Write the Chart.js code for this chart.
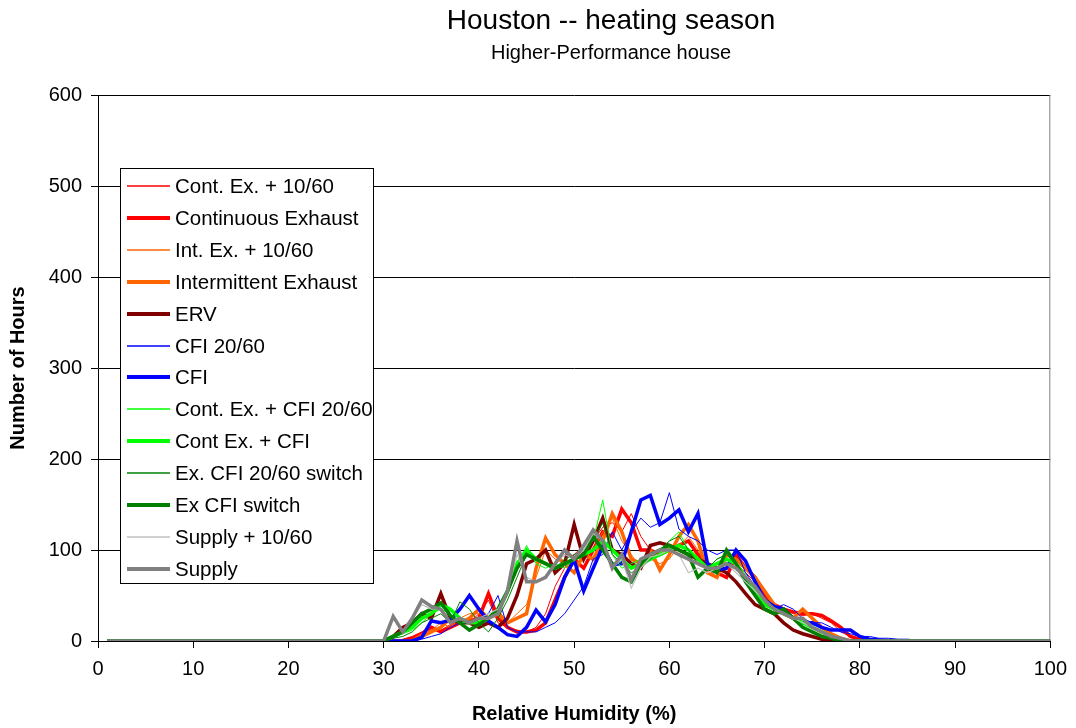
<!DOCTYPE html>
<html>
<head>
<meta charset="utf-8">
<script src="https://cdn.jsdelivr.net/npm/chart.js@4.4.1/dist/chart.umd.min.js"></script>
<style>
  html, body { margin: 0; padding: 0; background: #fff; }
</style>
</head>
<body>
<canvas id="chart" width="1076" height="728"></canvas>
<script>
// relative humidity (%) at which the hour counts are given; 2..28 and 88..99 are all zero
const rh = [1, 29,
  30, 31, 32, 33, 34, 35, 36, 37, 38, 39,
  40, 41, 42, 43, 44, 45, 46, 47, 48, 49,
  50, 51, 52, 53, 54, 55, 56, 57, 58, 59,
  60, 61, 62, 63, 64, 65, 66, 67, 68, 69,
  70, 71, 72, 73, 74, 75, 76, 77, 78, 79,
  80, 81, 82, 83, 84, 85, 86, 87,
  100];

const seriesNames = [
  'Cont. Ex. + 10/60', 'Continuous Exhaust', 'Int. Ex. + 10/60', 'Intermittent Exhaust',
  'ERV', 'CFI 20/60', 'CFI', 'Cont. Ex. + CFI 20/60', 'Cont Ex. + CFI',
  'Ex. CFI 20/60 switch', 'Ex CFI switch', 'Supply + 10/60', 'Supply'
];

const contEx1060 = [0, 0,
  0, 0, 2, 5, 10, 15, 12, 18, 22, 20,
  30, 45, 20, 15, 12, 10, 15, 30, 60, 80,
  95, 105, 110, 125, 130, 120, 140, 115, 100, 95,
  100, 105, 100, 90, 80, 70, 95, 85, 75, 65,
  50, 40, 35, 30, 28, 30, 25, 20, 10, 5,
  2, 1, 0, 0, 0, 0, 0, 0,
  0];
const contEx = [0, 0,
  0, 0, 0, 3, 8, 15, 10, 15, 20, 22,
  25, 52, 25, 15, 10, 10, 12, 20, 45, 70,
  90, 80, 100, 120, 115, 145, 130, 100, 100, 95,
  100, 105, 110, 95, 85, 75, 70, 95, 80, 70,
  50, 40, 35, 32, 30, 30, 28, 22, 15, 5,
  2, 0, 0, 0, 0, 0, 0, 0,
  0];
const intEx1060 = [0, 0,
  0, 0, 0, 2, 8, 12, 20, 15, 25, 30,
  30, 25, 35, 20, 30, 40, 70, 100, 90, 85,
  85, 90, 100, 120, 135, 110, 95, 80, 90, 85,
  90, 105, 115, 100, 80, 75, 90, 85, 80, 70,
  55, 40, 30, 25, 35, 25, 15, 8, 3, 0,
  0, 0, 0, 0, 0, 0, 0, 0,
  0];
const intEx = [0, 0,
  0, 0, 0, 0, 5, 10, 15, 25, 20, 25,
  35, 25, 30, 20, 25, 30, 80, 113, 95, 85,
  75, 95, 90, 110, 140, 120, 90, 85, 100, 78,
  95, 115, 128, 110, 75, 70, 95, 90, 80, 70,
  55, 40, 30, 25, 35, 25, 15, 8, 3, 0,
  0, 0, 0, 0, 0, 0, 0, 0,
  0];
const erv = [0, 0,
  0, 5, 15, 20, 30, 25, 52, 25, 20, 20,
  15, 20, 15, 25, 50, 85, 90, 100, 75, 85,
  128, 90, 110, 135, 100, 95, 85, 80, 105, 108,
  105, 100, 95, 90, 85, 80, 75, 65, 52, 40,
  35, 30, 20, 12, 8, 5, 2, 0, 0, 0,
  0, 0, 0, 0, 0, 0, 0, 0,
  0];
const cfi2060 = [0, 0,
  0, 0, 0, 0, 2, 5, 8, 15, 20, 20,
  25, 30, 50, 15, 10, 10, 10, 15, 20, 30,
  45, 60, 90, 95, 120, 100, 120, 135, 125, 130,
  163, 123, 115, 110, 100, 95, 100, 100, 75, 60,
  45, 35, 40, 35, 25, 20, 20, 15, 10, 8,
  5, 5, 3, 3, 2, 2, 1, 0,
  0];
const cfi = [0, 0,
  0, 0, 0, 0, 4, 22, 20, 23, 35, 50,
  35, 22, 15, 7, 5, 15, 34, 21, 40, 70,
  89, 55, 80, 104, 84, 85, 120, 155, 160, 128,
  135, 144, 120, 140, 85, 78, 80, 100, 88, 65,
  45, 38, 35, 25, 20, 20, 15, 12, 12, 12,
  5, 2, 1, 0, 0, 0, 0, 0,
  0];
const contExCfi2060 = [0, 0,
  0, 3, 8, 12, 20, 30, 35, 30, 20, 20,
  22, 25, 30, 50, 80, 105, 85, 80, 85, 80,
  90, 100, 110, 155, 95, 80, 85, 90, 95, 100,
  110, 120, 100, 90, 80, 90, 95, 85, 70, 55,
  40, 35, 30, 25, 20, 15, 10, 5, 2, 0,
  0, 0, 0, 0, 0, 0, 0, 0,
  0];
const contExCfi = [0, 0,
  0, 5, 10, 15, 25, 30, 40, 35, 25, 20,
  20, 25, 35, 55, 85, 100, 90, 85, 80, 85,
  90, 95, 100, 110, 100, 90, 80, 85, 90, 95,
  100, 105, 100, 90, 80, 85, 90, 85, 70, 55,
  40, 35, 30, 25, 20, 15, 10, 5, 2, 0,
  0, 0, 0, 0, 0, 0, 0, 0,
  0];
const exCfi2060Sw = [0, 0,
  0, 3, 5, 10, 20, 25, 30, 20, 43, 35,
  20, 10, 25, 45, 70, 95, 90, 85, 80, 90,
  95, 100, 110, 130, 95, 85, 75, 80, 90, 100,
  110, 115, 100, 85, 80, 90, 95, 85, 65, 50,
  35, 30, 30, 25, 15, 10, 5, 3, 0, 0,
  0, 0, 0, 0, 0, 0, 0, 0,
  0];
const exCfiSw = [0, 0,
  0, 5, 10, 20, 30, 35, 42, 28, 20, 12,
  18, 25, 35, 55, 80, 95, 90, 85, 80, 85,
  90, 95, 115, 100, 85, 70, 65, 85, 95, 100,
  105, 100, 95, 70, 80, 75, 100, 85, 65, 50,
  35, 30, 35, 25, 15, 10, 5, 3, 0, 0,
  0, 0, 0, 0, 0, 0, 0, 0,
  0];
const supply1060 = [0, 0,
  0, 25, 10, 25, 40, 35, 35, 20, 25, 20,
  25, 30, 35, 55, 95, 70, 65, 70, 85, 95,
  90, 100, 118, 110, 80, 90, 58, 80, 92, 95,
  100, 95, 75, 80, 75, 80, 85, 75, 65, 55,
  45, 35, 30, 25, 20, 15, 10, 5, 2, 0,
  0, 0, 0, 0, 0, 0, 0, 0,
  0];
const supply = [0, 0,
  0, 27, 10, 25, 45, 38, 35, 20, 25, 20,
  25, 25, 30, 55, 110, 65, 65, 70, 85, 100,
  90, 105, 122, 110, 80, 95, 67, 90, 95, 100,
  100, 95, 90, 85, 80, 80, 85, 80, 70, 60,
  45, 35, 30, 25, 25, 15, 10, 5, 3, 0,
  0, 0, 0, 0, 0, 0, 0, 0,
  0];

const seriesValues = [contEx1060, contEx, intEx1060, intEx, erv, cfi2060, cfi,
  contExCfi2060, contExCfi, exCfi2060Sw, exCfiSw, supply1060, supply];
const seriesColors = ['#FF0000', '#FF0000', '#FF6600', '#FF6600', '#800000', '#0000FF', '#0000FF',
  '#00FF00', '#00FF00', '#008000', '#008000', '#C0C0C0', '#808080'];
const seriesWidths = [1, 3.5, 1, 3.5, 3.5, 1, 3.5, 1, 3.5, 1, 3.5, 1.2, 3.5];

const FONT = '"Liberation Sans", Arial, sans-serif';

const datasets = seriesNames.map((name, i) => ({
  label: name,
  data: seriesValues[i].map((v, j) => ({ x: rh[j], y: v })),
  borderColor: seriesColors[i],
  backgroundColor: seriesColors[i],
  borderWidth: seriesWidths[i],
  pointRadius: 0,
  tension: 0,
  fill: false,
  order: seriesNames.length - i
}));

// titles, plot frame and the boxed legend inside the plot
const decorations = {
  id: 'decorations',
  afterDraw(chart) {
    const { ctx, chartArea: a } = chart;
    ctx.save();
    ctx.fillStyle = '#000';
    ctx.textAlign = 'center';
    ctx.textBaseline = 'middle';
    ctx.font = '28px ' + FONT;
    ctx.fillText('Houston -- heating season', 611, 21);
    ctx.font = '20px ' + FONT;
    ctx.fillText('Higher-Performance house', 611, 53);

    ctx.strokeStyle = '#808080';
    ctx.lineWidth = 1;
    ctx.beginPath();
    ctx.moveTo(a.right - 0.5, a.top);
    ctx.lineTo(a.right - 0.5, a.bottom);
    ctx.stroke();

    // legend
    const lx = 120, ly = 168, lw = 253, lh = 415, step = 31.9;
    ctx.fillStyle = '#fff';
    ctx.fillRect(lx, ly, lw, lh);
    ctx.strokeStyle = '#000';
    ctx.lineWidth = 1;
    ctx.strokeRect(lx + 0.5, ly + 0.5, lw, lh);
    ctx.textAlign = 'left';
    ctx.font = '20.5px ' + FONT;
    seriesNames.forEach((name, i) => {
      const y = Math.round(186 + i * step);
      ctx.strokeStyle = seriesColors[i];
      ctx.lineWidth = seriesWidths[i] < 2 ? 1.6 : 4;
      ctx.beginPath();
      ctx.moveTo(127, y);
      ctx.lineTo(170, y);
      ctx.stroke();
      ctx.fillStyle = '#000';
      ctx.fillText(name, 175, y + 1);
    });
    ctx.restore();
  }
};

new Chart(document.getElementById('chart'), {
  type: 'line',
  data: { datasets },
  plugins: [decorations],
  options: {
    responsive: false,
    animation: false,
    layout: { padding: { top: 95, right: 23, left: 0, bottom: 0 } },
    plugins: { legend: { display: false }, tooltip: { enabled: false } },
    scales: {
      x: {
        type: 'linear', min: 0, max: 100,
        ticks: { stepSize: 10, color: '#000', font: { family: FONT, size: 20 }, padding: 9, maxRotation: 0 },
        grid: { drawOnChartArea: false, drawTicks: true, tickLength: 7, tickColor: '#000' },
        border: { color: '#000' },
        title: { display: true, text: 'Relative Humidity (%)', color: '#000',
          font: { family: FONT, size: 20, weight: 'bold' }, padding: { top: 0, bottom: 2 } },
        afterFit: s => { s.height = 87; }
      },
      y: {
        min: 0, max: 600,
        ticks: { stepSize: 100, color: '#000', font: { family: FONT, size: 20 }, padding: 9 },
        grid: { color: '#000', tickLength: 7, tickColor: '#000' },
        border: { color: '#000' },
        title: { display: true, text: 'Number of Hours', color: '#000',
          font: { family: FONT, size: 20, weight: 'bold' }, padding: { top: 6, bottom: 0 } },
        afterFit: s => { s.width = 98; }
      }
    }
  }
});
</script>
</body>
</html>
